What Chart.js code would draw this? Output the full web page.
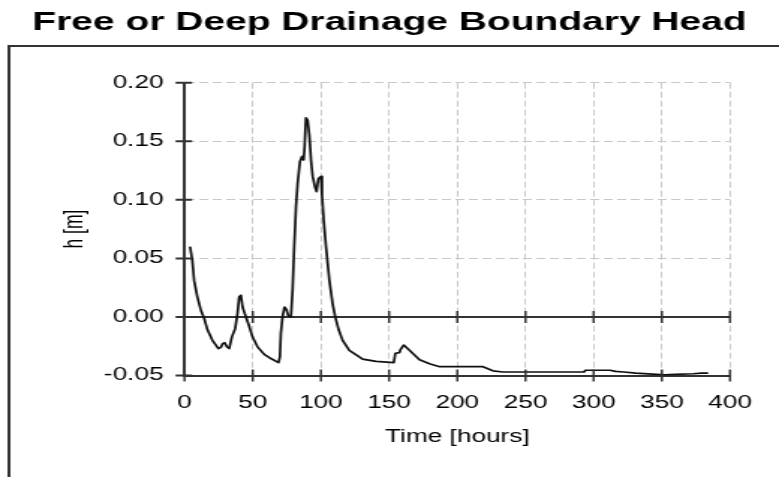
<!DOCTYPE html>
<html>
<head>
<meta charset="utf-8">
<title>Free or Deep Drainage Boundary Head</title>
<script src="https://cdn.jsdelivr.net/npm/chart.js@4"></script>
<style>
  body { margin: 0; background: #fff; }
  #myChart { display: block; }
</style>
</head>
<body>
<!-- drawn narrow and stretched sideways, like the old report export -->
<canvas id="myChart" width="520" height="477" style="width:779px;height:477px"></canvas>
<script>
// time since start [hours]
const hours = [
  4, 5.7, 7, 9.4, 11.9, 14.3, 16.8, 20.4, 24.8, 26.6, 27.8, 29.4, 31, 32.7,
  34.7, 37.1, 38.8, 40, 41.3, 42.5, 45, 47.4, 49.8, 53.5, 58.4, 63.3, 68.9,
  69.9, 70.6, 71.8, 73.3, 74.8, 76, 78, 79.2, 80.4, 81.7, 82.9, 84.6, 86.1,
  87.3, 88, 89, 90.2, 91.5, 92.7, 93.9, 95.6, 96.8, 98.1, 100, 100.8, 102,
  103.7, 106.2, 108.6, 110.6, 113, 115.9, 120.8, 130.6, 140.5, 153.4, 154.6,
  157.6, 158.3, 160.7, 164.9, 172.3, 179.6, 187, 218.8, 226.1, 233.5, 293,
  294, 312, 316, 322, 331, 346, 352, 360, 373, 379, 384
];

// boundary head h [m]
const head = [
  0.060, 0.048, 0.031, 0.017, 0.006, -0.001, -0.011, -0.020, -0.027, -0.026,
  -0.023, -0.022, -0.0255, -0.027, -0.017, -0.010, 0.003, 0.017, 0.0185,
  0.0085, 0.000, -0.008, -0.017, -0.0255, -0.032, -0.0355, -0.039, -0.034,
  -0.014, 0.000, 0.0085, 0.006, 0.001, 0.000, 0.023, 0.060, 0.094, 0.114,
  0.1325, 0.137, 0.134, 0.145, 0.170, 0.168, 0.155, 0.134, 0.120, 0.111,
  0.107, 0.118, 0.120, 0.104, 0.083, 0.060, 0.031, 0.011, -0.0005, -0.011,
  -0.020, -0.0285, -0.036, -0.038, -0.039, -0.031, -0.0305, -0.028, -0.024,
  -0.0285, -0.0365, -0.040, -0.0425, -0.0425, -0.046, -0.047, -0.047,
  -0.0455, -0.0455, -0.0465, -0.047, -0.048, -0.049, -0.0495, -0.049,
  -0.0485, -0.048, -0.048
];

const xTicks = [0, 50, 100, 150, 200, 250, 300, 350, 400];
const yTicks = [-0.05, 0, 0.05, 0.10, 0.15, 0.20];

const axisColor = '#333';
const gridColor = '#c8c8c8';
const fontFamily = 'Liberation Sans, Arial, sans-serif';

// outer frame, solid zero line and tick marks that cross the axes
const axisDecor = {
  id: 'axisDecor',
  beforeDraw(chart) {
    const c = chart.ctx;
    c.save();
    c.strokeStyle = axisColor;
    c.lineWidth = 2;
    c.beginPath();
    c.moveTo(6, chart.height + 5);
    c.lineTo(6, 46);
    c.lineTo(chart.width + 5, 46);
    c.stroke();
    c.restore();
  },
  beforeDatasetsDraw(chart) {
    const c = chart.ctx;
    const area = chart.chartArea;
    const y0 = chart.scales.y.getPixelForValue(0);
    c.save();
    c.strokeStyle = axisColor;
    c.lineWidth = 2;
    c.beginPath();
    c.moveTo(area.left, y0);
    c.lineTo(area.right, y0);
    c.stroke();
    c.restore();
  },
  afterDraw(chart) {
    const c = chart.ctx;
    const area = chart.chartArea;
    const x = chart.scales.x;
    const y = chart.scales.y;
    const y0 = y.getPixelForValue(0);
    c.save();
    c.strokeStyle = axisColor;
    c.lineWidth = 1.5;
    c.beginPath();
    xTicks.forEach(v => {
      const px = x.getPixelForValue(v);
      [y0, area.bottom].forEach(py => {
        c.moveTo(px, py - 6);
        c.lineTo(px, py + 6);
      });
    });
    c.stroke();
    c.lineWidth = 2;
    c.beginPath();
    yTicks.forEach(v => {
      const py = y.getPixelForValue(v);
      c.moveTo(area.left - 6, py);
      c.lineTo(area.left + 5, py);
    });
    c.stroke();
    c.restore();
  }
};

const ctx = document.getElementById('myChart');

new Chart(ctx, {
  type: 'line',
  data: {
    datasets: [{
      label: 'h',
      data: hours.map((t, i) => ({ x: t, y: head[i] })),
      borderColor: '#111',
      borderWidth: 1.7,
      borderJoinStyle: 'round',
      pointRadius: 0,
      tension: 0,
      fill: false
    }]
  },
  options: {
    responsive: false,
    animation: false,
    devicePixelRatio: 1,
    layout: { padding: 0 },
    scales: {
      x: {
        type: 'linear',
        min: 0,
        max: 400,
        afterBuildTicks: s => { s.ticks = xTicks.map(v => ({ value: v })); },
        afterFit: s => { s.height = 101.5; s.paddingRight = 32.7; },
        grid: { color: gridColor, lineWidth: 1, drawTicks: false },
        border: { color: axisColor, width: 2, dash: [6, 3] },
        ticks: {
          color: '#000',
          font: { family: fontFamily, size: 17.5 },
          padding: 17.5,
          maxRotation: 0,
          autoSkip: false
        },
        title: {
          display: true,
          text: 'Time [hours]',
          color: '#000',
          font: { family: fontFamily, size: 17.5 },
          padding: { top: 0, bottom: 29.5 }
        }
      },
      y: {
        type: 'linear',
        min: -0.05,
        max: 0.2,
        afterBuildTicks: s => { s.ticks = yTicks.map(v => ({ value: v })); },
        afterFit: s => { s.width = 123.2; },
        grid: { color: gridColor, lineWidth: 1, drawTicks: false },
        border: { color: axisColor, width: 2, dash: [6, 3] },
        ticks: {
          color: '#000',
          font: { family: fontFamily, size: 17.5 },
          padding: 14,
          callback: v => v.toFixed(2)
        },
        title: {
          display: true,
          text: 'h [m]',
          color: '#000',
          font: { family: fontFamily, size: 17.5 },
          padding: { top: 39.5, bottom: 0 }
        }
      }
    },
    plugins: {
      legend: { display: false },
      tooltip: { enabled: false },
      title: {
        display: true,
        text: 'Free or Deep Drainage Boundary Head',
        color: '#000',
        font: { family: fontFamily, size: 26, weight: 'bold' },
        padding: { top: 7, bottom: 44.5 }
      }
    }
  },
  plugins: [axisDecor]
});
</script>
</body>
</html>
